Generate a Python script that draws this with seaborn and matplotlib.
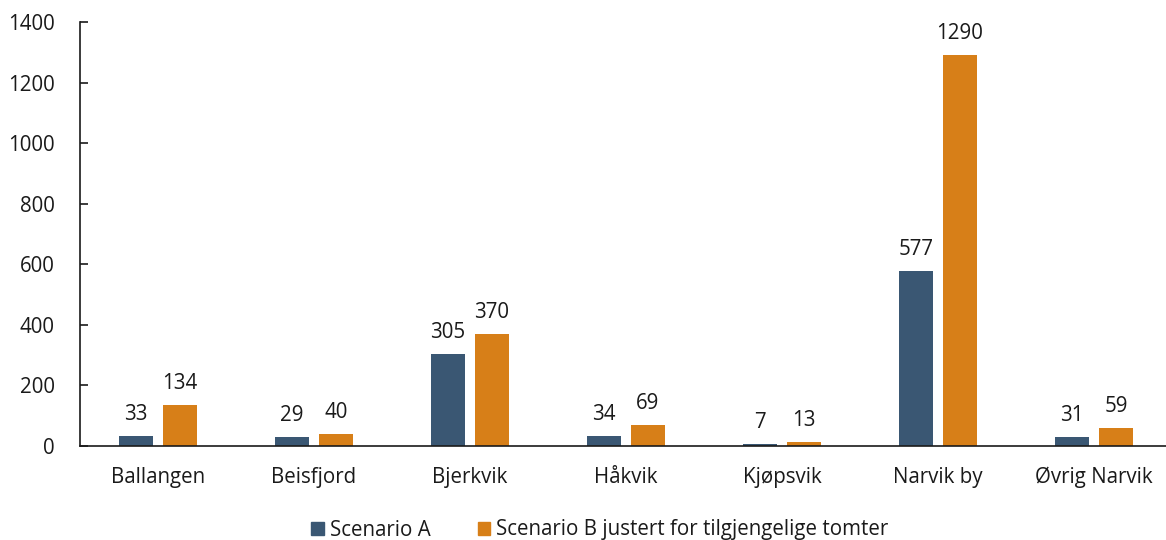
import matplotlib
matplotlib.use("Agg")
import matplotlib.pyplot as plt
import seaborn as sns
import pandas as pd

categories = ["Ballangen", "Beisfjord", "Bjerkvik", "Håkvik", "Kjøpsvik", "Narvik by", "Øvrig Narvik"]
scenario_a = [33, 29, 305, 34, 7, 577, 31]
scenario_b = [134, 40, 370, 69, 13, 1290, 59]
series_names = ["Scenario A", "Scenario B justert for tilgjengelige tomter"]
y_ticks = [0, 200, 400, 600, 800, 1000, 1200, 1400]

colors = ["#3A5773", "#D77F18"]
fs = 14.8

sns.set_theme(style="white")
plt.rcParams["font.family"] = ["Open Sans", "DejaVu Sans"]

df = pd.DataFrame({
    "Område": categories * 2,
    "Antall": scenario_a + scenario_b,
    "Serie": [series_names[0]] * len(categories) + [series_names[1]] * len(categories),
})

fig = plt.figure(figsize=(11.66, 5.40), dpi=100)
ax = fig.add_axes([80 / 1166, 94 / 540, 1092 / 1166, 424 / 540])

sns.barplot(data=df, x="Område", y="Antall", hue="Serie", hue_order=series_names,
            palette=colors, width=0.564, gap=0.206, saturation=1, ax=ax,
            errorbar=None, legend=True, linewidth=0, edgecolor="none")

for cont in ax.containers:
    ax.bar_label(cont, fmt="%d", padding=8, fontsize=fs, color="#1a1a1a")

ax.set_xlim(-0.5, len(categories) - 0.5)
ax.set_ylim(0, 1400)
ax.set_yticks(y_ticks)
ax.set_xlabel("")
ax.set_ylabel("")
ax.tick_params(axis="y", direction="in", length=6, width=1.2, pad=18, labelsize=fs,
               colors="#1a1a1a", left=True)
ax.tick_params(axis="x", length=0, pad=15, labelsize=fs, colors="#1a1a1a")
for side in ["top", "right"]:
    ax.spines[side].set_visible(False)
for side in ["left", "bottom"]:
    ax.spines[side].set_visible(True)
    ax.spines[side].set_color("#1a1a1a")
    ax.spines[side].set_linewidth(1.2)

ax.legend_.remove()
handles = [plt.Rectangle((0, 0), 1, 1, color=c) for c in colors]
fig.legend(handles, series_names, loc="center", bbox_to_anchor=(600 / 1166, 1 - 530 / 540),
           ncol=2, frameon=False, fontsize=fs, handlelength=0.6, handleheight=0.6,
           handletextpad=0.3, columnspacing=2.3, labelcolor="#1a1a1a")

fig.savefig("out.png", dpi=100)
